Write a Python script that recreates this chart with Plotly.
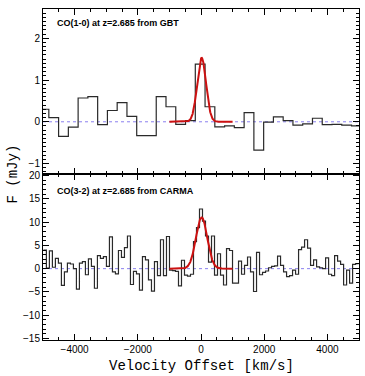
import numpy as np
import plotly.graph_objects as go

# ---------------- data ----------------
# GBT CO(1-0) spectrum: channel centres (km/s) and flux (mJy)
gbt_width = 309.0
gbt_vel = [-26 + gbt_width * j for j in range(-16, 17)]
gbt_flux = [0.30, 0.10, -0.35, -0.13, 0.57, 0.60, -0.07, 0.27, 0.46, 0.13,
            -0.33, -0.33, 0.60, 0.36, -0.06, 0.03, 1.38, 0.36, -0.12, -0.10,
            -0.14, 0.22, -0.68, -0.01, 0.12, 0.03, -0.08, -0.05, 0.085, -0.07,
            -0.06, -0.08, -0.10]

# CARMA CO(3-2) spectrum
carma_width = 95.0
carma_vel = [carma_width * k for k in range(-52, 53)]
carma_flux = [4.0, 0.1, 3.8, 0.3, 2.2, 1.2, -3.6, -0.7, 1.2, 1.0,
              0.0, -4.4, 1.2, 1.5, -1.3, 2.1, 0.5, -4.2, 2.8, 2.2,
              2.6, 0.5, 6.8, -0.7, -1.1, 3.9, 2.4, 4.5, 7.0, -3.4,
              -0.6, -1.1, -4.6, 2.6, 1.9, -2.4, -4.8, 1.5, -1.5, 6.2,
              -1.5, 6.9, -0.3, -0.4, -0.6, -3.7, 1.8, -1.4, -1.6, -1.2,
              5.8, 8.8, 12.8, 10.2, 7.0, 1.4, 7.0, -1.4, 3.2, -1.4,
              -3.5, 4.3, 3.9, -3.1, -3.1, 1.6, -1.2, 0.7, 2.5, -0.7,
              -4.9, 3.5, -1.3, -0.8, -0.5, 0.2, 0.5, 0.6, 2.7, 0.7,
              -0.7, -1.7, -1.5, -0.3, -1.2, 4.1, 4.6, 6.2, 4.4, 0.7,
              1.9, 0.4, 0.2, 0.0, 2.3, -1.2, -1.5, 2.8, 1.6, 0.9,
              -3.5, -0.3, -3.1, 0.9, 1.1]
assert len(carma_vel) == len(carma_flux)
assert len(gbt_vel) == len(gbt_flux)

# Gaussian fit parameters (amplitude mJy, centre km/s, FWHM km/s)
gbt_fit = dict(amp=1.53, v0=20.0, fwhm=330.0)
carma_fit = dict(amp=11.0, v0=20.0, fwhm=420.0)
fit_range = [-1000, 1000]

panel_labels = ["CO(1-0) at z=2.685 from GBT", "CO(3-2) at z=2.685 from CARMA"]
x_ticks = [-4000, -2000, 0, 2000, 4000]
top_yticks = [-1, 0, 1, 2]
bot_yticks = [-15, -10, -5, 0, 5, 10, 15, 20]


def steps(vel, flux, width):
    vel = np.asarray(vel, float)
    edges = list(vel - width / 2) + [vel[-1] + width / 2]
    ys = list(flux) + [flux[-1]]
    return edges, ys


def gauss(p):
    v = np.linspace(fit_range[0], fit_range[1], 400)
    s = p["fwhm"] / 2.3548
    return v, p["amp"] * np.exp(-(v - p["v0"]) ** 2 / (2 * s ** 2))


fig = go.Figure()
hist_col = "#2a2a2a"
red = "#cc1111"
zero_col = "#8a7fef"

# top panel
ex, ey = steps(gbt_vel, gbt_flux, gbt_width)
fig.add_trace(go.Scatter(x=[-5000, 5000], y=[0, 0], mode="lines", xaxis="x2", yaxis="y2",
                         line=dict(color=zero_col, width=1, dash="dot")))
fig.add_trace(go.Scatter(x=ex, y=ey, mode="lines", line_shape="hv", xaxis="x2", yaxis="y2",
                         line=dict(color=hist_col, width=1.2)))
gx, gy = gauss(gbt_fit)
fig.add_trace(go.Scatter(x=gx, y=gy, mode="lines", xaxis="x2", yaxis="y2",
                         line=dict(color=red, width=2)))

# bottom panel
ex, ey = steps(carma_vel, carma_flux, carma_width)
fig.add_trace(go.Scatter(x=[-5000, 5000], y=[0, 0], mode="lines", xaxis="x", yaxis="y",
                         line=dict(color=zero_col, width=1, dash="dot")))
fig.add_trace(go.Scatter(x=ex, y=ey, mode="lines", line_shape="hv", xaxis="x", yaxis="y",
                         line=dict(color=hist_col, width=1.2)))
gx, gy = gauss(carma_fit)
fig.add_trace(go.Scatter(x=gx, y=gy, mode="lines", xaxis="x", yaxis="y",
                         line=dict(color=red, width=2)))

tickfont = dict(family="Liberation Sans", size=10, color="black")
axis_common = dict(showline=True, linecolor="black", linewidth=1, mirror="allticks",
                   ticks="inside", ticklen=6, tickcolor="black", showgrid=False,
                   zeroline=False, tickfont=tickfont)

split = 168 / 335
fig.update_layout(
    width=365, height=376,
    margin=dict(l=43, r=6, t=5, b=36),
    paper_bgcolor="white", plot_bgcolor="white",
    showlegend=False,
    xaxis=dict(range=[-5000, 5000], tickvals=x_ticks, domain=[0, 1], anchor="y",
               minor=dict(dtick=500, tick0=0, ticklen=3, ticks="inside", tickcolor="black"),
               **axis_common),
    yaxis=dict(range=[-15.3, 20.3], tickvals=bot_yticks, domain=[0, split], anchor="x",
               minor=dict(dtick=1, tick0=0, ticklen=3, ticks="inside", tickcolor="black"),
               **axis_common),
    xaxis2=dict(range=[-5000, 5000], tickvals=x_ticks, domain=[0, 1], anchor="y2",
                showticklabels=False,
                minor=dict(dtick=500, tick0=0, ticklen=3, ticks="inside", tickcolor="black"),
                **axis_common),
    yaxis2=dict(range=[-1.25, 2.7], tickvals=top_yticks, domain=[split, 1], anchor="x2",
                minor=dict(dtick=0.1, tick0=0, ticklen=3, ticks="inside", tickcolor="black"),
                **axis_common),
    annotations=[
        dict(text=panel_labels[0], xref="paper", yref="paper", x=0.037, y=0.957,
             xanchor="left", yanchor="middle", showarrow=False,
             font=dict(family="Liberation Sans", size=9, color="black", weight="bold")),
        dict(text=panel_labels[1], xref="paper", yref="paper", x=0.037, y=split - 0.05,
             xanchor="left", yanchor="middle", showarrow=False,
             font=dict(family="Liberation Sans", size=9, color="black", weight="bold")),
        dict(text="F (mJy)", xref="paper", yref="paper", x=-0.098, y=0.5,
             xanchor="center", yanchor="middle", textangle=-90, showarrow=False,
             font=dict(family="Liberation Mono", size=14, color="black")),
        dict(text="Velocity Offset [km/s]", xref="paper", yref="paper", x=0.5, y=-0.078,
             xanchor="center", yanchor="middle", showarrow=False,
             font=dict(family="Liberation Mono", size=14, color="black")),
    ],
)

fig.write_html("out.html")
